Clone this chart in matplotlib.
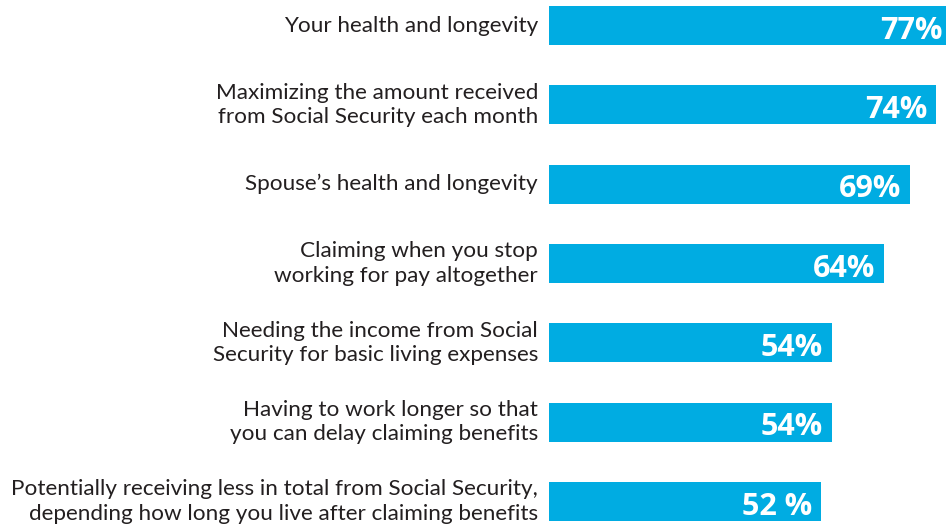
import matplotlib
matplotlib.use("Agg")
import matplotlib.pyplot as plt

categories = [
    "Your health and longevity",
    "Maximizing the amount received\nfrom Social Security each month",
    "Spouse\u2019s health and longevity",
    "Claiming when you stop\nworking for pay altogether",
    "Needing the income from Social\nSecurity for basic living expenses",
    "Having to work longer so that\nyou can delay claiming benefits",
    "Potentially receiving less in total from Social Security,\ndepending how long you live after claiming benefits",
]
values = [77, 74, 69, 64, 54, 54, 52]
value_labels = ["77%", "74%", "69%", "64%", "54%", "54%", "52 %"]

BAR_COLOR = "#00ACE2"
TEXT_COLOR = "#231F20"

W, H = 946, 527
fig = plt.figure(figsize=(W / 100, H / 100), dpi=100)
fig.patch.set_facecolor("white")

left_px = 549
px_per_pct = 5.235
ax = fig.add_axes([left_px / W, 0, px_per_pct * 100 / W, 1])
ax.set_xlim(0, 100)

spacing = 79.33
first_center = 25.5
ax.set_ylim((H - first_center) / spacing, -first_center / spacing)

ypos = list(range(len(values)))
ax.barh(ypos, values, height=38.7 / spacing, color=BAR_COLOR, clip_on=False)

for y, v, lab in zip(ypos, values, value_labels):
    ax.text(v - 9 / px_per_pct, y + 0.02, lab, ha="right", va="center_baseline",
            color="white", fontsize=22, fontweight="bold", family="Open Sans")

for y, cat in zip(ypos, categories):
    ax.text(-11 / px_per_pct, y, cat, ha="right", va="center",
            color=TEXT_COLOR, fontsize=16.2, family="Lato",
            linespacing=1.26, clip_on=False)

ax.axis("off")
fig.savefig("out.png", dpi=100, facecolor="white")
